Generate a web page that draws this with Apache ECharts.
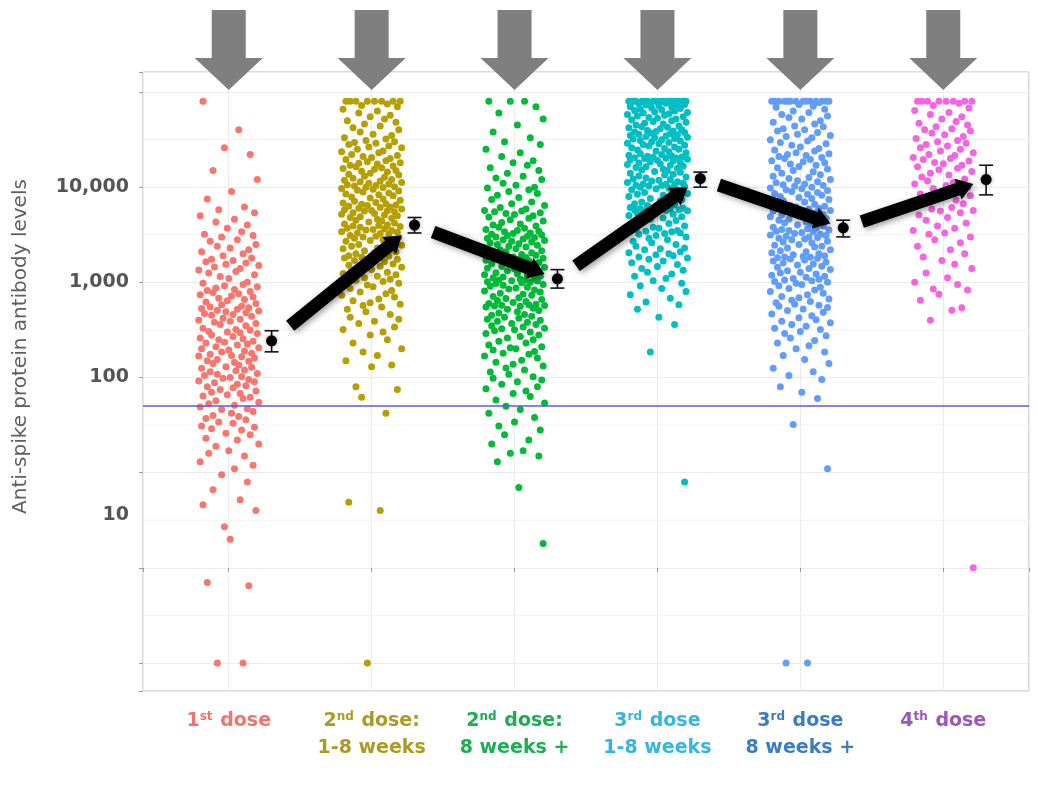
<!DOCTYPE html>
<html>
<head>
<meta charset="utf-8">
<script src="https://cdn.jsdelivr.net/npm/echarts@6/dist/echarts.min.js"></script>
<style>
html, body { margin: 0; background: #fff; }
#main { width: 1038px; height: 787px; }
</style>
</head>
<body>
<div id="main"></div>
<script>
// category labels: number, superscript, rest of first line, second line
var catNum = ['1', '2', '2', '3', '3', '4'];
var catSup = ['st', 'nd', 'nd', 'rd', 'rd', 'th'];
var catRest = [' dose', ' dose:', ' dose:', ' dose', ' dose', ' dose'];
var catLine2 = ['', '1-8 weeks', '8 weeks +', '1-8 weeks', '8 weeks +', ''];
var labelColors = ['#F2736C', '#AD9A22', '#1DAD55', '#35B6E2', '#3A7DC2', '#9D55C2'];
var pointColors = ['#F8766D', '#B79F00', '#00BA38', '#00BFC4', '#619CFF', '#F564E3'];

// horizontal jitter (hundredths of a category width), shared by all groups
var jitter = [
  -18, 7, -3, 15, -11, 20, 2, -15, 11, -7, 18, -20, 4, -9, 13, -1, 9, -17, 17, -5, 6, -13, 19, -8, 1, 14, -19, 10, -4, 16, -12, 3, -16, 12, -2, 21, -10, 8, -21, 5,
  -14, 18, -6, 0, 13, -18, 10, -3, 20, -9, 4, -15, 15, -11, 7, -20, 2, 17, -7, 11, -1, -16, 19, -5, 9, -13, 14, -19, 6, -8, 21, -2, 12, -17, 3, -12, 16, -4, 8, -21,
  1, -10, 19, -6, 12, -18, 5, 15, -14, -1, 8, 20, -12, 3, -20, 10, -7, 17, -3, -16, 13, 6, -9, 21, -19, 0, 11, -5, 16, -13, 2, -21, 9, 18, -8, -15, 14, 4, -11, 7,
  -2, 16, -19, 11, 5, -13, 20, -8, -17, 9, 1, -4, 14, -21, 18, -10, 6, 12, -15, 3, -6, 19, -12, 8, -1, -18, 15, 10, -9, 21, -14, 4, -20, 13, -5, 17, 2, -11, 7, -16,
  12, -7, 3, -19, 18, -12, 9, -2, 15, -16, 6, 21, -9, 0, -14, 11, -20, 17, 4, -5, 13, -11, 8, -18, 19, -3, 1, -15, 14, -8, 10, -21, 16, 5, -13, -1, 20, -6, 7, -17,
  -4, 13, -15, 19, 2, -9, 16, -20, 8, -1, 11, -13, 21, -6, 4, -18, 14, 0, -11, 18, -7, 10, -16, 6, -3, 17, -12, 3, 20, -19, 9, -8, 15, -14, 1, 12, -5, 19, -10, 5
];

// antibody levels per group
var dose1 = [
  80000, 40000, 26000, 22000, 15000, 12000, 9000, 7500, 6200, 5800,
  5400, 5000, 4600, 4300, 4000, 3700, 3400, 3200, 3100, 3000, 2800, 2700, 2500, 2400, 2300, 2200, 2100, 2000, 1900, 1800,
  1750, 1700, 1650, 1600, 1550, 1500, 1450, 1400, 1350, 1300, 1250, 1200, 1150, 1100, 1000,
  980, 950, 920, 900, 870, 840, 820, 800, 780, 760, 740, 720, 700, 680, 660, 640, 620, 600, 580, 560,
  550, 540, 530, 520, 510, 500, 490, 480, 470, 460, 450, 440, 420, 410, 400, 390, 380, 370, 360, 350, 330, 320,
  315, 305, 300, 295, 290, 280, 270, 260, 255, 250, 240, 235, 230, 225, 220, 210, 205, 200, 195, 190, 185, 180,
  175, 170, 168, 165, 160, 155, 150, 148, 145, 140, 135, 130, 128, 125, 120, 118, 115, 110, 108, 105, 102, 100,
  98, 95, 92, 90, 88, 85, 82, 80, 78, 75, 72, 70, 68, 66, 64, 62, 60, 57,
  55, 53, 51, 49, 47, 46, 44, 42, 40, 39, 37, 36, 34, 33, 31, 30, 29, 28, 26, 25, 23, 22, 20, 19,
  17, 16, 15, 13, 12, 11, 9.5, 8, 6.6, 5.2, 4.6, 4, 2.7, 2, 0.7, 0.65, 0.1, 0.1
];
var dose2 = [
  80000, 80000, 80000, 80000, 80000, 80000, 80000, 80000,
  75000, 72000, 70000, 66000, 63000, 60000, 57000, 55000, 52000, 50000, 48000, 46000, 44000, 42000, 40000, 38000, 36000, 35000, 33000, 32000,
  31000, 30000, 29500, 29000, 28000, 27000, 26500, 26000, 25000, 24000, 23500, 23000, 22000, 21500, 21000, 20500, 20000, 19500, 19000, 18500, 18000, 17800,
  17500, 17000, 16700, 16400, 16000, 15700, 15400, 15000, 14700, 14400, 14000, 13700, 13400, 13000, 12700, 12400, 12000, 11800, 11600, 11400, 11200, 11000, 10800, 10600, 10400, 10300, 10100, 10000,
  9900, 9700, 9500, 9300, 9100, 8900, 8700, 8500, 8300, 8100, 7900, 7700, 7500, 7300, 7100, 6900, 6800, 6700, 6600, 6500, 6400, 6300, 6200, 6100, 6000, 5900, 5800, 5700, 5650, 5600,
  5500, 5400, 5300, 5200, 5100, 5000, 4900, 4800, 4700, 4600, 4500, 4400, 4300, 4200, 4100, 4000, 3950, 3900, 3850, 3800, 3700, 3650, 3600, 3550, 3500, 3400, 3350, 3300, 3250, 3200,
  3100, 3050, 3000, 2950, 2900, 2800, 2750, 2700, 2600, 2550, 2500, 2450, 2400, 2300, 2250, 2200, 2150, 2100, 2050, 2000, 1950, 1900, 1880, 1850, 1820, 1800,
  1750, 1700, 1650, 1600, 1560, 1520, 1480, 1440, 1400, 1360, 1320, 1280, 1240, 1200, 1160, 1120, 1080, 1050, 1020, 1000,
  980, 940, 900, 860, 820, 790, 760, 730, 700, 670, 640, 610, 590, 570, 550, 520, 490, 460, 430, 410, 390, 370, 340, 320,
  300, 280, 250, 230, 200, 185, 170, 150, 135, 130, 80, 75, 62, 42, 4.9, 4, 0.1
];
var dose2late = [
  80000, 80000, 80000, 70000, 60000, 52000, 45000, 38000, 33000, 30000, 28000, 25000, 23000, 21000, 19000, 18000,
  17000, 16000, 15000, 14000, 13000, 12500, 12000, 11000, 10500, 10000,
  9800, 9400, 9000, 8600, 8200, 7800, 7400, 7000, 6700, 6400, 6100, 5900, 5700, 5600,
  5500, 5400, 5300, 5150, 5000, 4850, 4700, 4550, 4400, 4250, 4100, 4000, 3900, 3800, 3700, 3600, 3500, 3450, 3400, 3300, 3250, 3200,
  3150, 3100, 3050, 3000, 2950, 2900, 2850, 2800, 2750, 2700, 2650, 2600, 2550, 2500, 2450, 2400, 2350, 2300, 2250, 2200, 2150, 2100, 2050, 2000, 1960, 1920, 1880, 1850, 1820, 1790,
  1770, 1740, 1710, 1680, 1650, 1620, 1590, 1560, 1530, 1500, 1470, 1440, 1410, 1380, 1350, 1320, 1290, 1260, 1230, 1200, 1180, 1160, 1140, 1120, 1100, 1080, 1060, 1050, 1040, 1030, 1015, 1000,
  990, 970, 950, 930, 910, 890, 870, 850, 830, 810, 790, 770, 750, 730, 710, 690, 675, 660, 645, 630, 615, 600, 590, 580, 575, 570, 565, 560,
  550, 535, 520, 505, 490, 475, 460, 450, 440, 430, 420, 410, 400, 390, 380, 370, 360, 350, 340, 330, 325, 318,
  310, 300, 290, 280, 270, 260, 250, 240, 230, 220, 210, 205, 200, 195, 188, 180,
  175, 168, 160, 152, 145, 138, 132, 126, 120, 114, 108, 102, 98, 94, 90, 85, 80, 76, 72, 68, 63, 58,
  54, 50, 46, 42, 38, 34, 31, 28, 25, 22, 20, 17, 16, 15, 13, 7, 1.8
];
var dose3 = [
  80000, 80000, 80000, 80000, 80000, 80000, 80000, 80000, 80000, 80000, 80000, 80000, 80000, 80000, 80000, 80000, 80000, 80000,
  78000, 77000, 76000, 75000, 74000, 73000, 72000, 71000, 70000, 69000, 68000, 67000, 66000, 65000, 64000, 63000, 62000, 61000, 60000, 59000,
  58000, 57000, 56000, 55000, 54000, 53000, 52000, 51000, 50000, 49000, 48000, 47000, 46000, 45000, 44000, 43000, 42500, 42000, 41000, 40000,
  39500, 39000, 38500, 38000, 37500, 37000, 36500, 36000, 35500, 35000, 34500, 34000, 33500, 33000, 32500, 32000, 31500, 31000, 30500, 30000,
  29500, 29000, 28500, 28000, 27500, 27000, 26500, 26000, 25500, 25000, 24500, 24000, 23500, 23000, 22500, 22000, 21700, 21400, 21100, 20800, 20600, 20400, 20200, 20100, 20000,
  19700, 19400, 19100, 18800, 18500, 18200, 17900, 17600, 17300, 17000, 16700, 16400, 16100, 15800, 15500, 15200, 14900, 14600, 14300, 14000,
  13700, 13400, 13100, 12800, 12500, 12200, 12000, 11800, 11600, 11400, 11200, 11000, 10800, 10700, 10600, 10500, 10400, 10300, 10150, 10000,
  9800, 9600, 9400, 9200, 9000, 8800, 8600, 8400, 8200, 8000, 7800, 7600, 7400, 7200, 7000, 6850, 6700, 6550, 6400, 6250, 6100, 6000, 5950, 5900, 5850, 5800, 5750, 5700, 5650, 5600,
  5500, 5350, 5200, 5050, 4900, 4750, 4600, 4450, 4300, 4150, 4000, 3900, 3800, 3700, 3600, 3500, 3450, 3400, 3350, 3300, 3250, 3200,
  3100, 3000, 2900, 2800, 2700, 2600, 2500, 2400, 2300, 2250, 2200, 2100, 2050, 2000, 1950, 1900, 1850, 1800,
  1750, 1680, 1610, 1540, 1470, 1400, 1340, 1280, 1220, 1160, 1100, 1040, 980, 920, 860, 800, 740, 680, 620, 580, 520, 430, 360, 185, 8
];
var dose3late = [
  80000, 80000, 80000, 80000, 80000, 80000, 80000, 80000, 80000, 80000, 80000, 80000, 80000, 80000,
  77000, 74000, 71000, 69000, 66000, 63000, 61000, 58000, 56000, 54000, 52000, 50000, 48000, 46000, 44000, 43000, 41000, 40000,
  39000, 37500, 36000, 35000, 34000, 33000, 31500, 30500, 29500, 28500, 27500, 26500, 25500, 24500, 24000, 23000, 22500, 22000, 21500, 21000, 20500, 20000,
  19500, 19000, 18500, 18000, 17500, 17000, 16500, 16000, 15500, 15000, 14500, 14000, 13500, 13000, 12600, 12300, 12000, 11700, 11400, 11100, 10800, 10600, 10400, 10200, 10000,
  9800, 9600, 9400, 9200, 9000, 8800, 8600, 8400, 8200, 8000, 7800, 7600, 7400, 7200, 7000, 6800, 6600, 6400, 6300, 6200, 6100, 6000, 5900, 5800, 5700, 5600,
  5500, 5400, 5300, 5200, 5100, 5000, 4900, 4800, 4700, 4600, 4500, 4400, 4300, 4200, 4100, 4000, 3900, 3800, 3700, 3650, 3600, 3550, 3500, 3450, 3400, 3330, 3260, 3200,
  3150, 3100, 3050, 3000, 2950, 2900, 2850, 2800, 2700, 2650, 2600, 2500, 2450, 2400, 2350, 2300, 2200, 2150, 2100, 2050, 2000, 1950, 1900, 1870, 1850, 1830, 1810, 1790,
  1760, 1720, 1680, 1640, 1600, 1560, 1520, 1480, 1440, 1400, 1360, 1320, 1280, 1250, 1220, 1190, 1160, 1130, 1100, 1080, 1060, 1040, 1020, 1000,
  980, 950, 920, 890, 860, 830, 800, 770, 740, 710, 690, 670, 650, 630, 610, 590, 575, 560,
  545, 525, 505, 485, 465, 445, 425, 405, 390, 375, 360, 345, 330, 320,
  305, 290, 275, 260, 245, 230, 215, 200, 185, 170, 155, 140, 125, 115, 105, 95, 80, 70, 60, 32, 11, 0.1, 0.1
];
var dose4 = [
  80000, 80000, 80000, 80000, 80000, 80000, 80000, 80000,
  76000, 72000, 68000, 64000, 61000, 58000, 55000, 52000, 49000, 47000, 45000, 43000, 41000, 40000,
  39000, 37000, 35500, 34000, 32500, 31000, 30000, 29000, 28000, 27000, 26000, 25000, 24000, 23000, 22000, 21500, 20500, 20000,
  19500, 18800, 18200, 17600, 17000, 16400, 15800, 15200, 14600, 14000, 13400, 12800, 12200, 11700, 11200, 10800, 10400, 10000,
  9700, 9300, 8900, 8500, 8100, 7700, 7300, 7000, 6700, 6400, 6100, 5900, 5700, 5600,
  5400, 5100, 4800, 4500, 4200, 3900, 3700, 3500, 3300, 3200,
  3000, 2800, 2600, 2400, 2200, 2000, 1850, 1700, 1550, 1400, 1250, 1120, 1000,
  950, 850, 830, 750, 650, 540, 510, 400, 1
];
var groups = [dose1, dose2, dose2late, dose3, dose3late, dose4];

// geometric means with error bars
var means = [243, 4000, 1090, 12300, 3740, 12000];
var errLow = [186, 3300, 870, 10000, 3000, 8300];
var errHigh = [310, 4800, 1360, 14400, 4500, 17000];
var threshold = 50;

var yLabels = { '1': '10', '2': '100', '3': '1,000', '4': '10,000' };
var minorLines = [-0.5, 0.5, 1.5, 2.5, 3.5, 4.5];
var yMin = -1.294, yMax = 5.21;
var lg = Math.log10;

var chart = echarts.init(document.getElementById('main'));
var rich = {};
labelColors.forEach(function (c, k) {
  rich['m' + k] = { color: c, fontSize: 19, fontWeight: 'bold', fontFamily: 'DejaVu Sans', lineHeight: 27 };
  rich['s' + k] = { color: c, fontSize: 12, fontWeight: 'bold', fontFamily: 'DejaVu Sans', verticalAlign: 'top', lineHeight: 27, padding: [3, 1, 0, 0] };
});

var series = [];
// minor grid lines (drawn under the points)
series.push({
  type: 'custom', z: 1, silent: true,
  data: minorLines.map(function (v) { return [1, v]; }),
  renderItem: function (params, api) {
    var cs = params.coordSys;
    var y = api.coord([1, api.value(1)])[1];
    return { type: 'line', shape: { x1: cs.x, y1: y, x2: cs.x + cs.width, y2: y }, style: { stroke: '#f3f3f3', lineWidth: 1 } };
  }
});
groups.forEach(function (vals, g) {
  series.push({
    type: 'scatter', z: 2, symbolSize: 7,
    itemStyle: { color: pointColors[g], opacity: 1 },
    data: vals.map(function (v, k) { return [g + 1 + jitter[k] / 100, lg(v)]; })
  });
});
// threshold line
series.push({
  type: 'line', data: [], silent: true, z: 3,
  markLine: {
    silent: true, symbol: 'none', label: { show: false },
    lineStyle: { color: '#5b5bd8', width: 1.5, type: 'solid' },
    data: [{ yAxis: lg(threshold) }]
  }
});
// means with error bars
series.push({
  type: 'custom', z: 5,
  data: means.map(function (m, k) { return [k + 1.3, lg(m), lg(errLow[k]), lg(errHigh[k])]; }),
  renderItem: function (params, api) {
    var c = api.coord([api.value(0), api.value(1)]);
    var lo = api.coord([api.value(0), api.value(2)]);
    var hi = api.coord([api.value(0), api.value(3)]);
    var w = 7, st = { stroke: '#111', lineWidth: 1.6 };
    return { type: 'group', children: [
      { type: 'line', shape: { x1: c[0], y1: lo[1], x2: c[0], y2: hi[1] }, style: st },
      { type: 'line', shape: { x1: c[0] - w, y1: lo[1], x2: c[0] + w, y2: lo[1] }, style: st },
      { type: 'line', shape: { x1: c[0] - w, y1: hi[1], x2: c[0] + w, y2: hi[1] }, style: st },
      { type: 'circle', shape: { cx: c[0], cy: c[1], r: 5.5 }, style: { fill: '#000', shadowBlur: 4, shadowColor: 'rgba(0,0,0,0.35)' } }
    ] };
  }
});
// thick black arrows between means
var arrowData = [];
for (var k = 0; k < means.length - 1; k++) {
  arrowData.push([k + 1.3, lg(means[k]), k + 2.3, lg(means[k + 1])]);
}
series.push({
  type: 'custom', z: 6,
  data: arrowData,
  renderItem: function (params, api) {
    var p0 = api.coord([api.value(0), api.value(1)]);
    var p1 = api.coord([api.value(2), api.value(3)]);
    var dx = p1[0] - p0[0], dy = p1[1] - p0[1];
    var t = [p0[0] + dx * 0.13, p0[1] + dy * 0.13];
    var h = [p0[0] + dx * 0.91, p0[1] + dy * 0.91];
    var len = Math.sqrt(dx * dx + dy * dy);
    var ux = dx / len, uy = dy / len, nx = -uy, ny = ux;
    var sw = 6.5, hw = 11, hl = 16;
    var b = [h[0] - ux * hl, h[1] - uy * hl];
    var pts = [
      [t[0] + nx * sw, t[1] + ny * sw], [b[0] + nx * sw, b[1] + ny * sw], [b[0] + nx * hw, b[1] + ny * hw],
      h, [b[0] - nx * hw, b[1] - ny * hw], [b[0] - nx * sw, b[1] - ny * sw], [t[0] - nx * sw, t[1] - ny * sw]
    ];
    return { type: 'polygon', shape: { points: pts },
      style: { fill: '#000', shadowBlur: 6, shadowColor: 'rgba(0,0,0,0.4)', shadowOffsetX: 2, shadowOffsetY: 2 } };
  }
});
// gray dose arrows above the panel
series.push({
  type: 'custom', z: 7, clip: false,
  data: catNum.map(function (n, k) { return [k + 1, yMax]; }),
  renderItem: function (params, api) {
    var c = api.coord([api.value(0), api.value(1)]);
    var x = c[0], y = c[1];
    return { type: 'polygon', shape: { points: [
      [x - 17, y - 62], [x + 17, y - 62], [x + 17, y - 14], [x + 34, y - 14],
      [x, y + 18], [x - 34, y - 14], [x - 17, y - 14]
    ] }, style: { fill: '#7f7f7f' } };
  }
});

chart.setOption({
  animation: false,
  backgroundColor: '#fff',
  grid: { left: 143, right: 9, top: 72, bottom: 96, show: true, borderColor: '#b8b8b8', borderWidth: 1, backgroundColor: '#fff' },
  xAxis: {
    type: 'value', min: 0.4, max: 6.6,
    axisLine: { show: false },
    axisTick: { length: 4, lineStyle: { color: '#999' } },
    splitLine: { lineStyle: { color: '#ebebeb' } },
    axisLabel: {
      margin: 17, rich: rich,
      formatter: function (v) {
        var k = Math.round(v);
        if (Math.abs(v - k) > 1e-6 || k < 1 || k > 6) return '';
        var i = k - 1;
        var s = '{m' + i + '|' + catNum[i] + '}{s' + i + '|' + catSup[i] + '}{m' + i + '|' + catRest[i] + '}';
        if (catLine2[i]) s += '\n{m' + i + '|' + catLine2[i] + '}';
        return s;
      }
    }
  },
  yAxis: {
    type: 'value', min: yMin, max: yMax, splitNumber: 6,
    name: 'Anti-spike protein antibody levels',
    nameLocation: 'middle', nameGap: 112,
    nameTextStyle: { color: '#5f5f5f', fontSize: 20, fontFamily: 'DejaVu Sans', padding: [0, 0, 0, 70] },
    axisLine: { show: false },
    axisTick: { length: 4, lineStyle: { color: '#999' } },
    splitLine: { lineStyle: { color: '#ebebeb' } },
    axisLabel: {
      margin: 14, color: '#555', fontSize: 19, fontWeight: 'bold', fontFamily: 'DejaVu Sans',
      rich: { lo: { color: '#555', fontSize: 19, fontWeight: 'bold', fontFamily: 'DejaVu Sans', padding: [84, 0, 0, 0] } },
      formatter: function (v) {
        var k = Math.round(v);
        if (Math.abs(v - k) > 1e-6) return '';
        var s = yLabels[String(k)];
        if (!s) return '';
        return k === 1 ? '{lo|' + s + '}' : s;
      }
    }
  },
  series: series
});
</script>
</body>
</html>
